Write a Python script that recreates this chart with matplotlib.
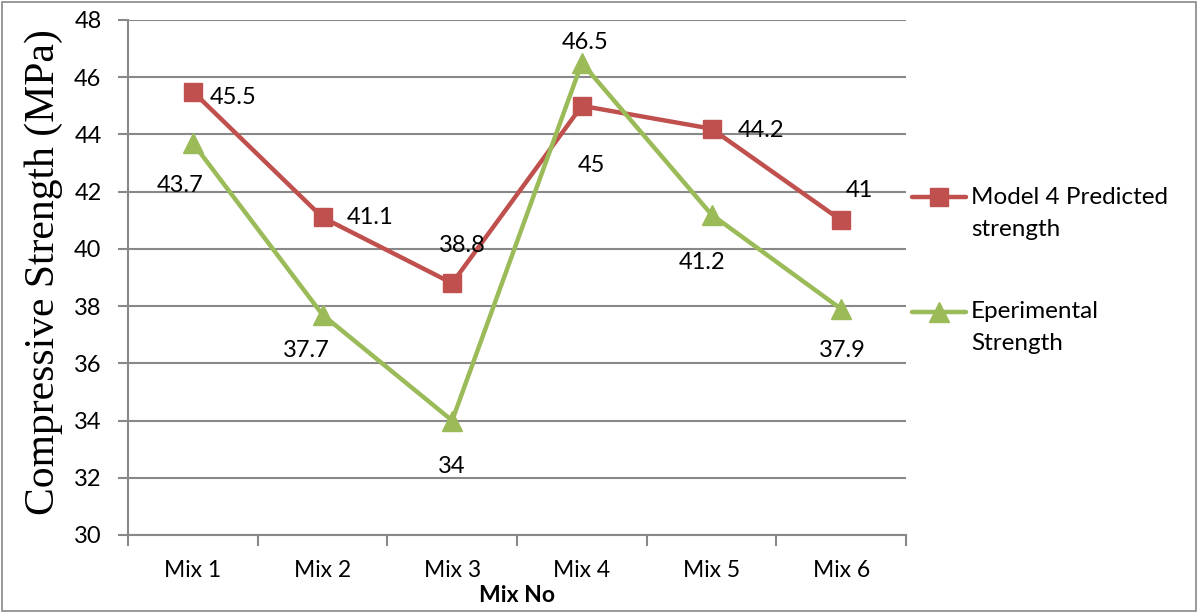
import matplotlib.pyplot as plt
from matplotlib.lines import Line2D
from matplotlib.patches import Rectangle

# mix designs and strengths (MPa)
mixes = ["Mix 1", "Mix 2", "Mix 3", "Mix 4", "Mix 5", "Mix 6"]
predicted = [45.5, 41.1, 38.8, 45, 44.2, 41]
experimental = [43.7, 37.7, 34, 46.5, 41.2, 37.9]
series_names = [["Model 4 Predicted", "strength"], ["Eperimental", "Strength"]]

# label offsets in pixels (dx, dy) for each point
pred_offsets = [(40, -6), (48, 0), (10, 38), (10, -60), (50, -2), (18, 30)]
exp_offsets = [(-13, -42), (-16, -36), (0, -46), (3, 20), (-9, -48), (1, -42)]

red = "#C0504D"
green = "#9BBB59"
grid_col = "#888888"

W, H = 1198, 612
plt.rcParams['font.family'] = ['Lato', 'DejaVu Sans']

fig = plt.figure(figsize=(W / 100, H / 100), dpi=100)
ax = fig.add_axes([128 / W, 1 - 535 / H, 778 / W, 515 / H])

x = list(range(len(mixes)))
l1, = ax.plot(x, predicted, color=red, lw=3.2, marker="s", markersize=13, zorder=3)
l2, = ax.plot(x, experimental, color=green, lw=3.2, marker="^", markersize=14, zorder=3)

for xi, v, (dx, dy) in zip(x, predicted, pred_offsets):
    ax.annotate(f"{v:g}", (xi, v), xytext=(dx, dy), textcoords="offset pixels",
                ha="center", va="center", fontsize=17)
for xi, v, (dx, dy) in zip(x, experimental, exp_offsets):
    ax.annotate(f"{v:g}", (xi, v), xytext=(dx, dy), textcoords="offset pixels",
                ha="center", va="center", fontsize=17)

ax.set_xlim(-0.5, len(mixes) - 0.5)
ax.set_ylim(30, 48)
ax.set_yticks(range(30, 49, 2))
ax.set_xticks(x)
ax.set_xticklabels(mixes)
ax.set_xticks([i - 0.5 for i in range(len(mixes) + 1)], minor=True)
ax.tick_params(axis="x", which="major", length=0, pad=18, labelsize=16.5)
ax.tick_params(axis="x", which="minor", length=8, width=1.5, color=grid_col)
ax.tick_params(axis="y", length=7, width=1.5, color=grid_col, labelsize=17, pad=12)

ax.grid(axis="y", color=grid_col, lw=1.5)
ax.set_axisbelow(True)
for s in ["top", "right"]:
    ax.spines[s].set_visible(False)
for s in ["left", "bottom"]:
    ax.spines[s].set_color(grid_col)
    ax.spines[s].set_linewidth(1.5)

ax.set_ylabel("Compressive Strength (MPa)", family="Liberation Serif", fontsize=30)
ax.yaxis.set_label_coords(-0.083, 0.51)
ax.set_xlabel("Mix No", fontsize=16.5, fontweight="bold", labelpad=3)

# legend drawn by hand so the key sits on the first line of each label
for (line, names), y0 in zip([(l1, series_names[0]), (l2, series_names[1])], [197, 312]):
    fy = 1 - y0 / H
    fig.add_artist(Line2D([912 / W, 966 / W], [fy, fy], color=line.get_color(), lw=3.2,
                          solid_capstyle="round", transform=fig.transFigure))
    fig.add_artist(Line2D([939 / W], [fy], color=line.get_color(), marker=line.get_marker(),
                          markersize=line.get_markersize(), transform=fig.transFigure))
    for k, name in enumerate(names):
        fig.text(971 / W, 1 - (y0 + 32 * k) / H, name, fontsize=17.5, ha="left", va="center")

fig.patches.append(Rectangle((0.002, 0.002), 0.996, 0.994, transform=fig.transFigure,
                             fill=False, edgecolor="#888888", lw=1.2))

fig.savefig("out.png", dpi=100)
